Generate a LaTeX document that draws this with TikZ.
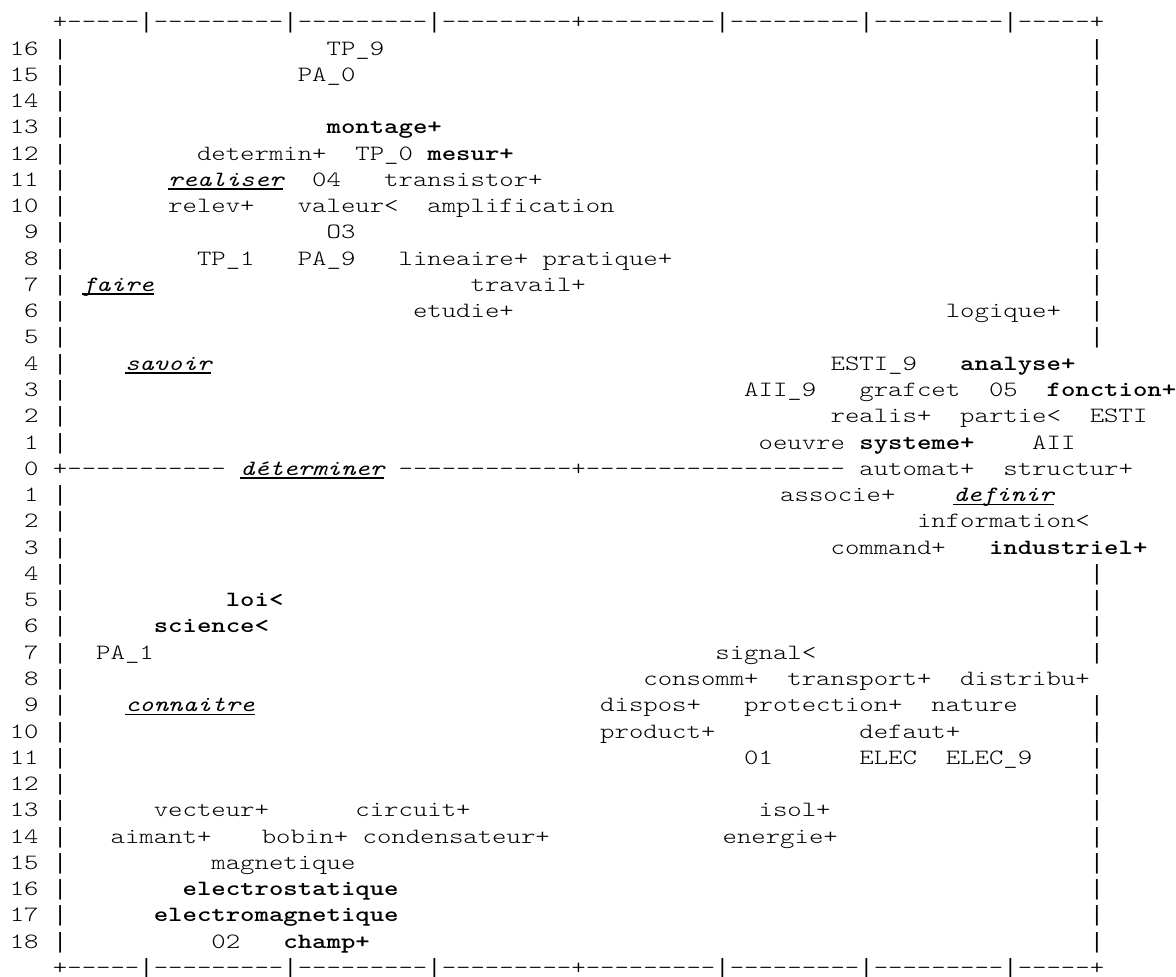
\documentclass[tikz,border=0pt]{standalone}
\usepackage{fontspec}
\setmonofont{lmmonolt10-regular.otf}[FakeStretch=1.25819,
  BoldFont=lmmonolt10-bold.otf, ItalicFont=lmmono10-italic.otf,
  BoldItalicFont=lmmonolt10-boldoblique.otf]
\newfontfamily\barfont{Liberation Mono}
\newcommand{\fsz}{\fontsize{21.8}{26}\selectfont\ttfamily}
\newcommand{\vb}{\makebox[14.4pt]{\fontsize{22}{26}\selectfont\barfont |}}
\begin{document}
\begin{tikzpicture}[x=14.4pt,y=-26.27pt,
  t/.style={anchor=base west,inner sep=0pt,outer sep=0pt,font=\fsz},
  b/.style={t,font=\fsz\bfseries},
  u/.style={t,font=\fsz\itshape},
  ulline/.style={line width=1.3pt}]
\useasboundingbox (-9.8pt,28.73pt) rectangle (1166.2pt,-948.27pt);
% borders
\node[t] (topb) at (3,0) {+-----\vb---------\vb---------\vb---------+---------\vb---------\vb---------\vb-----+};
\node[t] (botb) at (3,36) {+-----\vb---------\vb---------\vb---------+---------\vb---------\vb---------\vb-----+};
% row labels
\foreach \l in {1,...,7} {\pgfmathtruncatemacro{\r}{17-\l}\node[t] (lab\l) at (0,\l) {\r};}
\foreach \l in {8,...,16} {\pgfmathtruncatemacro{\r}{17-\l}\node[t] (lab\l) at (1,\l) {\r};}
\node[t] (lab17) at (1,17) {0};
\foreach \l in {18,...,26} {\pgfmathtruncatemacro{\r}{\l-17}\node[t] (lab\l) at (1,\l) {\r};}
\foreach \l in {27,...,35} {\pgfmathtruncatemacro{\r}{\l-17}\node[t] (lab\l) at (0,\l) {\r};}
% left bars
\foreach \l in {1,...,16,18,19,...,35} {\node[t] (lb\l) at (3,\l) {\vb};}
% right bars
\foreach \l in {1,...,12,21,22,23,24,26,27,...,35} {\node[t] (rb\l) at (75,\l) {\vb};}
% upper half
\node[t] (tp9) at (22,1) {TP\_9};
\node[t] (pa0) at (20,2) {PA\_0};
\node[b] (montage) at (22,4) {montage+};
\node[t] (determin) at (13,5) {determin+};
\node[t] (tp0) at (24,5) {TP\_0};
\node[b] (mesur) at (29,5) {mesur+};
\node[u] (realiser) at (11,6) {realiser};
\node[t] (o4) at (21,6) {04};
\node[t] (transistor) at (26,6) {transistor+};
\node[t] (relev) at (11,7) {relev+};
\node[t] (valeur) at (20,7) {valeur<};
\node[t] (amplification) at (29,7) {amplification};
\node[t] (o3) at (22,8) {O3};
\node[t] (tp1) at (13,9) {TP\_1};
\node[t] (pa9) at (20,9) {PA\_9};
\node[t] (lineaire) at (27,9) {lineaire+};
\node[t] (pratique) at (37,9) {pratique+};
\node[u] (faire) at (5,10) {faire};
\node[t] (travail) at (32,10) {travail+};
\node[t] (etudie) at (28,11) {etudie+};
\node[t] (logique) at (65,11) {logique+};
\node[u] (savoir) at (8,13) {savoir};
\node[t] (esti9) at (57,13) {ESTI\_9};
\node[b] (analyse) at (66,13) {analyse+};
\node[t] (aii9) at (51,14) {AII\_9};
\node[t] (grafcet) at (59,14) {grafcet};
\node[t] (o5) at (68,14) {05};
\node[b] (fonction) at (72,14) {fonction+};
\node[t] (realis) at (57,15) {realis+};
\node[t] (partie) at (66,15) {partie<};
\node[t] (esti) at (75,15) {ESTI};
\node[t] (oeuvre) at (52,16) {oeuvre};
\node[b] (systeme) at (59,16) {systeme+};
\node[t] (aii) at (71,16) {AII};
% axis row
\node[t] (ax1) at (3,17) {+-----------};
\node[u] (determiner) at (16,17) {déterminer};
\node[t] (ax2) at (27,17) {------------+------------------};
\node[t] (automat) at (59,17) {automat+};
\node[t] (structur) at (69,17) {structur+};
% lower half
\node[t] (associe) at (53.5,18) {associe+};
\node[u] (definir) at (65.5,18) {definir};
\node[t] (information) at (63,19) {information<};
\node[t] (command) at (57,20) {command+};
\node[b] (industriel) at (68,20) {industriel+};
\node[b] (loi) at (15,22) {loi<};
\node[b] (science) at (10,23) {science<};
\node[t] (pa1) at (6,24) {PA\_1};
\node[t] (signal) at (49,24) {signal<};
\node[t] (consomm) at (44,25) {consomm+};
\node[t] (transport) at (54,25) {transport+};
\node[t] (distribu) at (66,25) {distribu+};
\node[u] (connaitre) at (8,26) {connaitre~};
\node[t] (dispos) at (41,26) {dispos+};
\node[t] (protection) at (51,26) {protection+};
\node[t] (nature) at (64,26) {nature};
\node[t] (product) at (41,27) {product+};
\node[t] (defaut) at (59,27) {defaut+};
\node[t] (o1) at (51,28) {01};
\node[t] (elec) at (59,28) {ELEC};
\node[t] (elec9) at (65,28) {ELEC\_9};
\node[t] (vecteur) at (10,30) {vecteur+};
\node[t] (circuit) at (24,30) {circuit+};
\node[t] (isol) at (52,30) {isol+};
\node[t] (aimant) at (7,31) {aimant+};
\node[t] (bobin) at (17.5,31) {bobin+};
\node[t] (condensateur) at (24.5,31) {condensateur+};
\node[t] (energie) at (49.5,31) {energie+};
\node[t] (magnetique) at (14,32) {magnetique};
\node[b] (electrostatique) at (12,33) {electrostatique};
\node[b] (electromagnetique) at (10,34) {electromagnetique};
\node[t] (o2) at (14,35) {02};
\node[b] (champ) at (19,35) {champ+};
% underlines
\foreach \n in {realiser,faire,savoir,determiner,definir,connaitre}
  {\draw[ulline] ([yshift=-2.7pt]\n.base west) -- ([yshift=-2.7pt]\n.base east);}
\end{tikzpicture}
\end{document}
